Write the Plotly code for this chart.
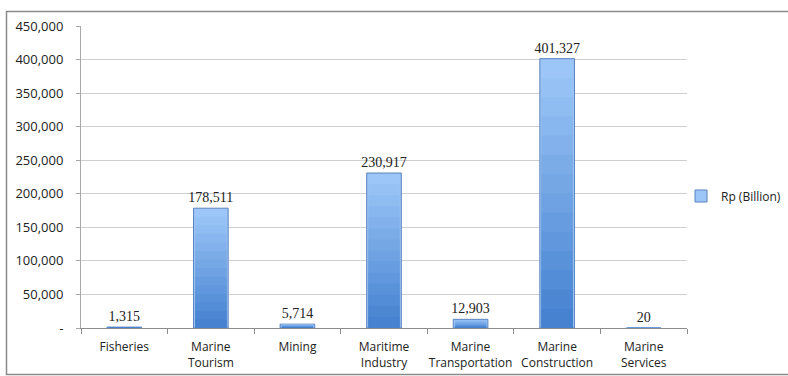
import plotly.graph_objects as go

# Output value by marine economic sector, Rp (billion)
categories = ["Fisheries", "Marine<br>Tourism", "Mining", "Maritime<br>Industry",
              "Marine<br>Transportation", "Marine<br>Construction", "Marine<br>Services"]
values = [1315, 178511, 5714, 230917, 12903, 401327, 20]
value_labels = ["1,315", "178,511", "5,714", "230,917", "12,903", "401,327", "20"]
series_name = "Rp (Billion)"

y_tickvals = [0, 50000, 100000, 150000, 200000, 250000, 300000, 350000, 400000, 450000]
y_ticktext = ["-", "50,000", "100,000", "150,000", "200,000", "250,000",
              "300,000", "350,000", "400,000", "450,000"]

# Plot area geometry (px)
W, H = 788, 376
L, R, T, B = 81, 101, 26, 48
pw, ph = W - L - R, H - T - B

top_rgb = (156, 198, 247)
bot_rgb = (64, 125, 206)


def mix(f):
    r = [int(round(b + (t - b) * f)) for t, b in zip(top_rgb, bot_rgb)]
    return "rgb(%d,%d,%d)" % tuple(r)


fig = go.Figure()

# Full-height bars carry the legend entry and the value labels
fig.add_trace(go.Bar(
    x=categories, y=values, name=series_name,
    marker=dict(color=mix(1.0), line=dict(color="rgb(90,130,190)", width=1)),
    width=0.4,
    text=value_labels, textposition="outside", constraintext="none",
    textfont=dict(family="Liberation Serif", size=14, color="#222"),
    cliponaxis=False, showlegend=True,
))

# Vertical shading: progressively shorter, darker layers on top of each bar
steps = 14
for k in range(1, steps):
    f = 1 - k / steps
    fig.add_trace(go.Bar(
        x=categories, y=[v * f for v in values],
        marker=dict(color=mix(f), line=dict(width=0)),
        width=0.36, showlegend=False, hoverinfo="skip",
    ))

fig.update_layout(
    width=W, height=H,
    margin=dict(l=L, r=R, t=T, b=B, pad=0, autoexpand=False),
    paper_bgcolor="white", plot_bgcolor="white",
    barmode="overlay",
    font=dict(family="Open Sans", size=12, color="#222"),
    showlegend=True,
    legend=dict(xref="container", yref="container",
                x=681 / W, y=(H - 196) / H, xanchor="left", yanchor="middle",
                font=dict(family="Open Sans", size=12, color="#222"),
                itemwidth=30, bgcolor="rgba(0,0,0,0)"),
)

fig.update_xaxes(
    type="category", showgrid=False, showline=True, linecolor="#8c8c8c", linewidth=1,
    ticks="outside", tickson="boundaries", ticklen=5, tickcolor="#8c8c8c",
    tickangle=0, automargin=False, ticklabelstandoff=8,
    tickfont=dict(family="Open Sans", size=12, color="#222"),
)
fig.update_yaxes(
    range=[0, 450000], tickvals=y_tickvals, ticktext=y_ticktext,
    showgrid=True, gridcolor="#cfcfcf", gridwidth=1,
    showline=True, linecolor="#a8a8a8", linewidth=1,
    ticks="outside", ticklen=4, tickcolor="#a8a8a8",
    ticklabelstandoff=10, zeroline=False, automargin=False,
    tickfont=dict(family="Open Sans", size=13, color="#222"),
)

# Outer chart frame
fig.add_shape(type="rect", xref="paper", yref="paper",
              x0=(6.5 - L) / pw, x1=(W + 2 - L) / pw,
              y0=(H - B - (H - 1.5)) / ph, y1=1 + (T - 11.5) / ph,
              line=dict(color="#8a8a8a", width=1.5), fillcolor="rgba(0,0,0,0)",
              layer="below")

fig.write_html("out.html")
